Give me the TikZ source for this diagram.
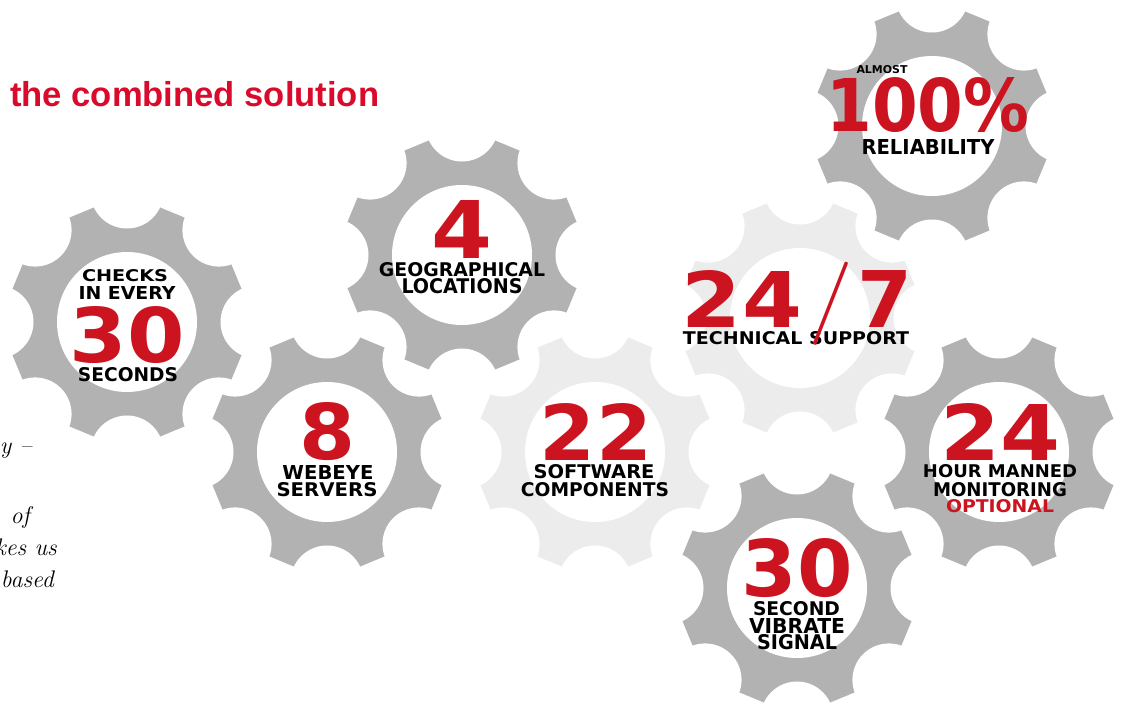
\documentclass[tikz,border=0pt]{standalone}
\usepackage{fontspec}
\usepackage{graphicx}
\newfontfamily\gearfont{DejaVu Sans}
\newfontfamily\titlefont{Liberation Sans}
\usetikzlibrary{calc}

\definecolor{gearred}{HTML}{CC1420}
\definecolor{titlered}{HTML}{DA0A2C}
\definecolor{geardark}{HTML}{B2B2B2}
\definecolor{gearlight}{HTML}{ECECEC}

\newcommand{\fitto}[3]{\resizebox{#1pt}{#2pt}{#3}}

\tikzset{
  pics/gear/.style={code={
    \fill[#1,draw=white,line width=3pt] ($(0:130pt)+(112.5:35pt)$)
      \foreach \k in {0,...,7}{
        -- ($({45*(\k+1)}:130pt)+({45*\k-67.5}:35pt)$)
        arc[start angle={45*\k-67.5},end angle={45*\k-202.5},radius=35pt]
      } -- cycle;
    \fill[white] (0,0) circle[radius=70pt];
  }},
  big/.style={inner sep=0pt,text=gearred,font=\gearfont\bfseries},
  word/.style={inner sep=0pt,text=black,font=\gearfont\bfseries},
  note/.style={anchor=base east,inner sep=0pt,font=\itshape\fontsize{24}{28}\selectfont},
}

\begin{document}
\begin{tikzpicture}[x=1pt,y=-1pt]
  \useasboundingbox (0,0) rectangle (1122,706);
  \fill[white] (0,0) rectangle (1122,706);

  % pale gears at the back
  \pic at (800,318) {gear=gearlight};
  \pic at (595,452) {gear=gearlight};
  % grey gears
  \pic at (127,322) {gear=geardark};
  \pic at (462,255) {gear=geardark};
  \pic at (932,126) {gear=geardark};
  \pic at (327,452) {gear=geardark};
  \pic at (999,452) {gear=geardark};
  \pic at (797,588) {gear=geardark};

  \node[anchor=base west,inner sep=0pt,text=titlered,
        font={\titlefont\bfseries\fontsize{34.6}{40}\selectfont}] (title) at (10,107) {the combined solution};

  % notes cut by the left edge
  \node[note] (note1) at (32,453) {cy –};
  \node[note] (note2) at (30,523) {of};
  \node[note] (note3) at (57,555) {kes us};
  \node[note] (note4) at (54,587) {based};

  % checks
  \node[word] (checks) at (125,276) {\fitto{86}{12}{CHECKS}};
  \node[word] (every) at (127,292.5) {\fitto{97}{13}{IN EVERY}};
  \node[big] (thirty) at (127,335) {\fitto{115}{56}{30}};
  \node[word] (seconds) at (128,375) {\fitto{100}{14}{SECONDS}};

  % locations
  \node[big] (four) at (462,229) {\fitto{61}{58}{4}};
  \node[word] (geo) at (462,270) {\fitto{166}{14}{GEOGRAPHICAL}};
  \node[word] (locations) at (462,286) {\fitto{121}{15}{LOCATIONS}};

  % reliability
  \node[word] (almost) at (882,69.5) {\fitto{51}{8}{ALMOST}};
  \node[big] (hundred) at (928,105) {\fitto{203}{54}{100\%}};
  \node[word] (reliability) at (928,147.5) {\fitto{133}{15}{RELIABILITY}};

  % support
  \node[big] (day) at (742,298.5) {\fitto{120}{57}{24}};
  \node[big] (week) at (884.5,298.5) {\fitto{55}{57}{7}};
  \node[word] (support) at (796,338.5) {\fitto{226}{13}{TECHNICAL SUPPORT}};
  \node[inner sep=0pt,text=gearred] (slash) at (830.5,303.5) {\resizebox*{45pt}{83pt}{/}};

  % servers
  \node[big] (eight) at (327,432) {\fitto{56}{57}{8}};
  \node[word] (webeye) at (328,472) {\fitto{91}{14}{WEBEYE}};
  \node[word] (servers) at (327,490) {\fitto{101}{14}{SERVERS}};

  % components
  \node[big] (twentytwo) at (596,432) {\fitto{112}{57}{22}};
  \node[word] (software) at (594,472) {\fitto{121}{14}{SOFTWARE}};
  \node[word] (components) at (595,490) {\fitto{148}{14}{COMPONENTS}};

  % monitoring
  \node[big] (hours) at (1000,432) {\fitto{120}{57}{24}};
  \node[word] (manned) at (1000,471.5) {\fitto{154}{13}{HOUR MANNED}};
  \node[word] (monitoring) at (1000,490) {\fitto{134}{14}{MONITORING}};
  \node[big] (optional) at (1000,506.5) {\fitto{108}{13}{OPTIONAL}};

  % vibrate
  \node[big] (vibe) at (797,568) {\fitto{111}{58}{30}};
  \node[word] (second) at (796.5,609) {\fitto{87}{14}{SECOND}};
  \node[word] (vibrate) at (797,625.5) {\fitto{96}{15}{VIBRATE}};
  \node[word] (signal) at (797,642.5) {\fitto{80}{15}{SIGNAL}};
\end{tikzpicture}
\end{document}
